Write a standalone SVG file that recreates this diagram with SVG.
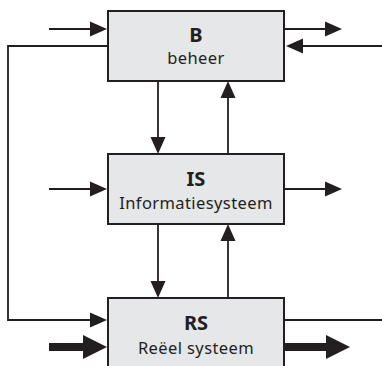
<svg xmlns="http://www.w3.org/2000/svg" width="382" height="366" viewBox="0 0 382 366">
<style>
.box{fill:#e6e7e8;stroke:#231f20;stroke-width:2}
.ln{fill:none;stroke:#231f20;stroke-width:1.8}
.thick{fill:none;stroke:#231f20;stroke-width:8}
.hd{fill:#231f20}
.t1{font-family:"Noto Sans","Open Sans",sans-serif;font-weight:bold;font-size:20px;fill:#231f20;text-anchor:middle}
.t2{font-family:"Noto Sans","Open Sans",sans-serif;font-size:16.5px;letter-spacing:0.4px;fill:#231f20;text-anchor:middle}
</style>
<rect width="382" height="366" fill="#ffffff"/>
<g id="connectors">
<path class="ln" d="M49 29H92"/><polygon class="hd" points="107,29 90,21.5 90,36.5"/>
<path class="ln" d="M284 29H328"/><polygon class="hd" points="342,29 325,21.5 325,36.5"/>
<path class="ln" d="M382 46H300"/><polygon class="hd" points="286,46 303,38.5 303,53.5"/>
<path class="ln" d="M108 46H8V320H92"/><polygon class="hd" points="107,320 90,312.5 90,327.5"/>
<path class="ln" d="M158 81V139"/><polygon class="hd" points="158,154 150.5,137 165.5,137"/>
<path class="ln" d="M228 154V96"/><polygon class="hd" points="228,81 220.5,98 235.5,98"/>
<path class="ln" d="M49 189H92"/><polygon class="hd" points="107,189 90,181.5 90,196.5"/>
<path class="ln" d="M284 189H328"/><polygon class="hd" points="342,189 325,181.5 325,196.5"/>
<path class="ln" d="M158 224V283"/><polygon class="hd" points="158,298 150.5,281 165.5,281"/>
<path class="ln" d="M228 298V239"/><polygon class="hd" points="228,224 220.5,241 235.5,241"/>
<path class="ln" d="M284 320H382"/>
<path class="thick" d="M49 347H86"/><polygon class="hd" points="107,347 83,335 83,359"/>
<path class="thick" d="M284 347H328"/><polygon class="hd" points="350,347 326,335 326,359"/>
</g>
<g id="B">
<rect class="box" x="108" y="11" width="176" height="70"/>
<text class="t1" x="196" y="42">B</text>
<text class="t2" x="196" y="64">beheer</text>
</g>
<g id="IS">
<rect class="box" x="108" y="154" width="176" height="70"/>
<text class="t1" x="196" y="186">IS</text>
<text class="t2" x="196" y="209">Informatiesysteem</text>
</g>
<g id="RS">
<rect class="box" x="108" y="298" width="176" height="80"/>
<text class="t1" x="196" y="330">RS</text>
<text class="t2" x="196" y="354">Reëel systeem</text>
</g>
</svg>
